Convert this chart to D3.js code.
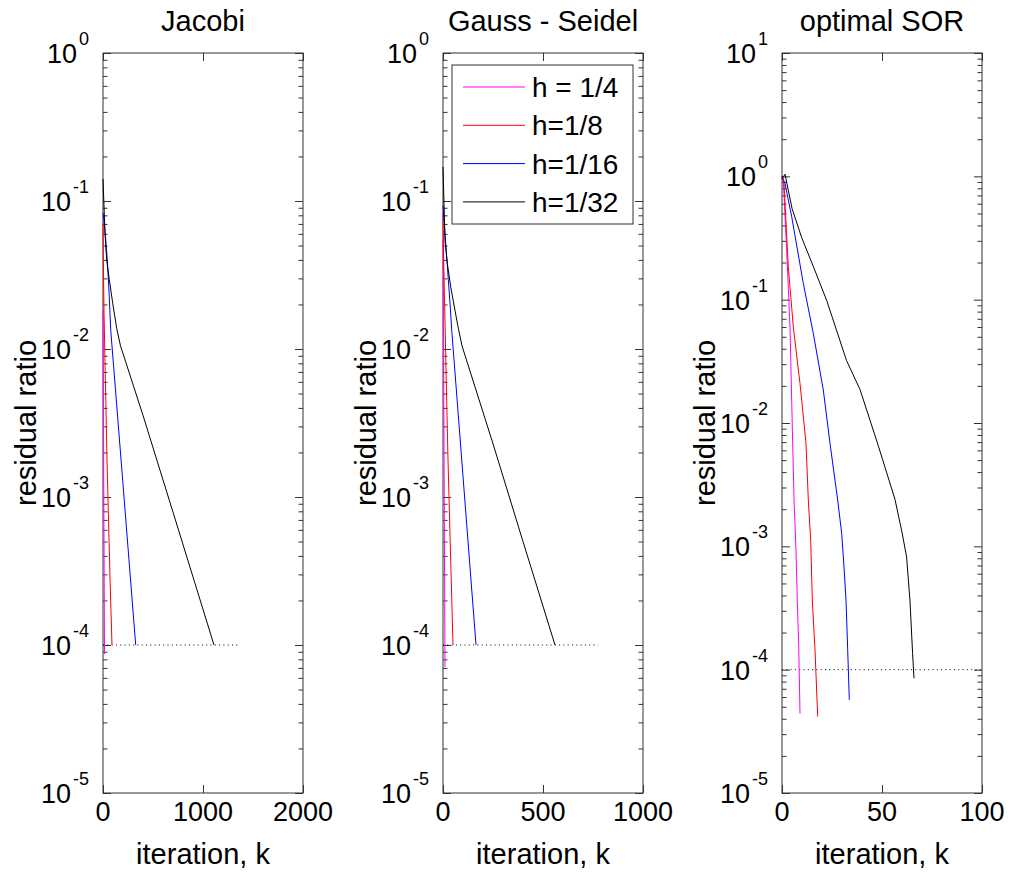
<!DOCTYPE html>
<html>
<head>
<meta charset="utf-8">
<script src="https://cdn.jsdelivr.net/npm/d3@7"></script>
<style>
  body { margin: 0; background: #fff; }
  text { font-family: "Liberation Sans", Arial, Helvetica, sans-serif; fill: #000; }
</style>
</head>
<body>
<div id="chart"></div>
<script>
// panel setup
const titles = ["Jacobi", "Gauss - Seidel", "optimal SOR"];
const seriesLabels = ["h = 1/4", "h=1/8", "h=1/16", "h=1/32"];
const xMax = [2000, 1000, 100];
const xTicks = [[0, 1000, 2000], [0, 500, 1000], [0, 50, 100]];
const yMin = 1e-5;
const yMax = [1, 1, 10];
const tol = 1e-4;
const tolEnd = [1370, 775, 100];

// [iteration, residual ratio]
const jac4 = [[0, 0.0182], [5, 0.00305], [10, 0.000513], [15, 0.000087]];
const jac8 = [[0, 0.0708], [3, 0.0398], [10, 0.0178], [40, 0.00178], [70, 0.000282], [90, 0.0001]];
const jac16 = [[0, 0.083], [20, 0.063], [43, 0.04], [63, 0.0224], [77, 0.0135], [200, 0.00122], [327, 0.0001]];
const jac32 = [[0, 0.141], [20, 0.0608], [37, 0.0398], [63, 0.0295], [97, 0.0204], [137, 0.0138], [175, 0.0105], [400, 0.00356], [700, 0.00079], [1110, 0.0001]];

const gs4 = [[0, 0.055], [3, 0.01], [6, 0.00112], [9, 0.000141], [10, 0.0000708]];
const gs8 = [[0, 0.083], [2, 0.05], [8, 0.02], [25, 0.00178], [50, 0.0001]];
const gs16 = [[0, 0.093], [15, 0.049], [26.5, 0.0295], [35, 0.0204], [43.5, 0.0135], [100, 0.00138], [165, 0.0001]];
const gs32 = [[0, 0.17], [10, 0.0537], [21.5, 0.038], [38.5, 0.0263], [60, 0.0182], [76.5, 0.0138], [95, 0.0105], [250, 0.00229], [400, 0.0005], [560, 0.0001]];

const sor4 = [[0, 1], [0.65, 0.93], [2.35, 0.25], [4, 0.06], [5.35, 0.0068], [6, 0.0024], [7, 0.00093], [7.65, 0.00036], [8.35, 0.00016], [9, 0.000044]];
const sor8 = [[0, 1], [1, 0.877], [3.15, 0.185], [5.65, 0.06], [9, 0.0209], [12, 0.00684], [13.15, 0.00237], [14.35, 0.00112], [15.15, 0.000367], [16.5, 0.000145], [17.85, 0.0000417]];
const sor16 = [[0, 1], [1.5, 0.877], [4.85, 0.47], [10.65, 0.1355], [15.65, 0.0533], [20.65, 0.0185], [24, 0.00684], [27.85, 0.00237], [29.85, 0.00127], [31, 0.00068], [32, 0.000367], [32.85, 0.000145], [33.65, 0.0000569]];
const sor32 = [[0, 0.95], [1.5, 1.04], [5, 0.55], [9.8, 0.32], [15.7, 0.185], [22.3, 0.099], [32.3, 0.032], [39, 0.0187], [48.2, 0.0065], [56.5, 0.0024], [60, 0.0013], [62.3, 0.00082], [64, 0.00036], [65.3, 0.000135], [66, 0.000085]];

const panelData = [[jac4, jac8, jac16, jac32], [gs4, gs8, gs16, gs32], [sor4, sor8, sor16, sor32]];
const colors = ["#ff00ff", "#ff0000", "#0000ff", "#000000"];

const W = 1011, H = 876;
const panelLeft = [103, 443, 782];
const plotTop = 53, pw = 200, ph = 740;
const tickFs = 27, labelFs = 29;

const svg = d3.select("#chart").append("svg")
  .attr("width", W)
  .attr("height", H);

// strip labels/domain, keep inward tick lines
const tickAxis = ax => {
  ax.selectAll(".domain").remove();
  ax.selectAll("line").attr("stroke", "#333");
  ax.selectAll("text").remove();
};

panelData.forEach((series, p) => {
  const g = svg.append("g").attr("transform", `translate(${panelLeft[p]},${plotTop})`);

  const x = d3.scaleLinear().domain([0, xMax[p]]).range([0, pw]);
  const y = d3.scaleLog().domain([yMin, yMax[p]]).range([ph, 0]);

  const e0 = Math.round(Math.log10(yMin)), e1 = Math.round(Math.log10(yMax[p]));
  const majors = d3.range(e0, e1 + 1).map(e => Math.pow(10, e));
  const minors = [];
  d3.range(e0, e1).forEach(e => { for (let m = 2; m <= 9; m++) minors.push(m * Math.pow(10, e)); });

  g.append("g").call(d3.axisLeft(y).tickValues(majors).tickSize(-8)).call(tickAxis);
  g.append("g").call(d3.axisLeft(y).tickValues(minors).tickSize(-4.5)).call(tickAxis);
  g.append("g").attr("transform", `translate(${pw},0)`)
    .call(d3.axisRight(y).tickValues(majors).tickSize(-8)).call(tickAxis);
  g.append("g").attr("transform", `translate(${pw},0)`)
    .call(d3.axisRight(y).tickValues(minors).tickSize(-4.5)).call(tickAxis);
  g.append("g").attr("transform", `translate(0,${ph})`)
    .call(d3.axisBottom(x).tickValues(xTicks[p]).tickSize(-8)).call(tickAxis);
  g.append("g").call(d3.axisTop(x).tickValues(xTicks[p]).tickSize(-8)).call(tickAxis);

  // box
  g.append("rect")
    .attr("x", 0).attr("y", 0)
    .attr("width", pw).attr("height", ph)
    .attr("fill", "none")
    .attr("stroke", "#333")
    .attr("stroke-width", 1);

  // y tick labels 10^n
  majors.forEach(v => {
    const t = g.append("text")
      .attr("x", -14)
      .attr("y", y(v) + 10)
      .attr("text-anchor", "end")
      .style("font-size", tickFs + "px");
    t.append("tspan").text("10");
    t.append("tspan")
      .attr("dx", 2)
      .attr("dy", -18)
      .style("font-size", "18px")
      .text(Math.round(Math.log10(v)));
  });

  // x tick labels
  xTicks[p].forEach(v => {
    g.append("text")
      .attr("x", x(v))
      .attr("y", ph + 28)
      .attr("text-anchor", "middle")
      .style("font-size", tickFs + "px")
      .text(v);
  });

  // tolerance line
  g.append("line")
    .attr("x1", x(0)).attr("x2", x(tolEnd[p]))
    .attr("y1", y(tol)).attr("y2", y(tol))
    .attr("stroke", "#000")
    .attr("stroke-width", 1)
    .attr("stroke-dasharray", "1,3.3");

  const line = d3.line().x(d => x(d[0])).y(d => y(d[1]));
  series.forEach((s, i) => {
    g.append("path")
      .datum(s)
      .attr("d", line)
      .attr("fill", "none")
      .attr("stroke", colors[i])
      .attr("stroke-width", 1);
  });

  // title
  g.append("text")
    .attr("x", pw / 2)
    .attr("y", -22)
    .attr("text-anchor", "middle")
    .style("font-size", labelFs + "px")
    .text(titles[p]);

  // axis labels
  g.append("text")
    .attr("x", pw / 2)
    .attr("y", ph + 71)
    .attr("text-anchor", "middle")
    .style("font-size", labelFs + "px")
    .text("iteration, k");

  g.append("text")
    .attr("transform", `translate(-67,${ph / 2})rotate(-90)`)
    .attr("text-anchor", "middle")
    .style("font-size", labelFs + "px")
    .text("residual ratio");

  // legend only in the middle panel
  if (p === 1) {
    const lg = g.append("g").attr("transform", "translate(9,12)");
    lg.append("rect")
      .attr("width", 181).attr("height", 159)
      .attr("fill", "#fff")
      .attr("stroke", "#333");
    seriesLabels.forEach((lab, i) => {
      const yy = 22 + i * 38.3;
      lg.append("line")
        .attr("x1", 11).attr("x2", 73)
        .attr("y1", yy).attr("y2", yy)
        .attr("stroke", colors[i]);
      lg.append("text")
        .attr("x", 80)
        .attr("y", yy + 10)
        .style("font-size", "28px")
        .text(lab);
    });
  }
});
</script>
</body>
</html>
